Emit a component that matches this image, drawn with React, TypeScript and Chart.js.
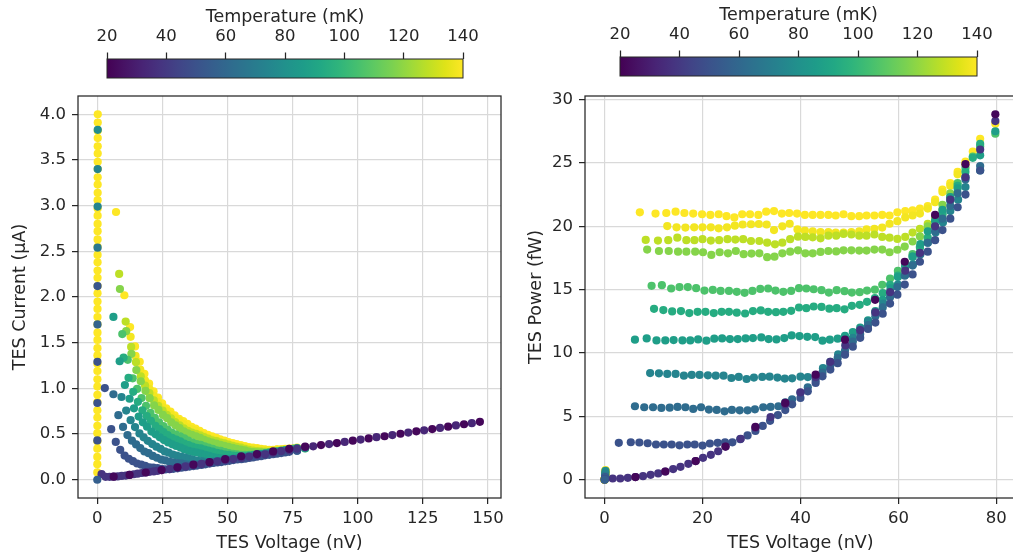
import React, { useEffect, useRef } from "react";
import { Chart, registerables } from "chart.js";

Chart.register(...registerables);

// ---------------- tick labels ----------------
const leftXTicks = [0, 25, 50, 75, 100, 125, 150];
const leftYTicks = [0, 0.5, 1, 1.5, 2, 2.5, 3, 3.5, 4];
const rightXTicks = [0, 20, 40, 60, 80];
const rightYTicks = [0, 5, 10, 15, 20, 25, 30];
const cbarTicks = [20, 40, 60, 80, 100, 120, 140];
const tempMin = 20;
const tempMax = 140;

// ---------------- IV sweeps: voltage (nV) and power (fW), one pair per temperature (mK) ----------------
const v22 = [6.3, 12.4, 18.6, 24.7, 30.8, 36.9, 43.1, 49.1, 55.25, 61.3, 67.5, 73.7, 79.8];
const p22 = [0.21, 0.65, 1.47, 2.62, 4.17, 6.06, 8.29, 11.05, 14.2, 17.2, 20.9, 24.9, 28.84];

const v38 = [1.65, 3.2, 4.75, 6.3, 7.85, 9.4, 10.95, 12.4, 14.0, 15.5, 17.1, 18.6, 20.1, 21.7, 23.2, 24.7, 27.8, 30.8, 33.9, 36.9, 40.0, 43.1, 46.1, 49.2, 52.2, 55.3, 58.3, 61.4, 64.4, 67.5, 70.6, 73.7, 76.7, 79.8];
const p38 = [0.10, 0.10, 0.15, 0.21, 0.28, 0.39, 0.50, 0.65, 0.84, 1.02, 1.26, 1.47, 1.73, 1.97, 2.25, 2.62, 3.23, 4.10, 4.95, 5.95, 6.90, 8.10, 9.30, 10.60, 11.80, 13.20, 14.80, 16.50, 17.90, 20.00, 22.10, 23.86, 26.06, 28.30];

const v50 = [2.9, 5.35, 7.1, 8.8, 10.5, 12.1, 13.7, 15.3, 16.9, 18.4, 20.0, 21.5, 23.1, 24.6, 26.1, 27.7, 29.2, 30.8, 32.3, 33.8, 35.4, 36.9, 38.3, 40.0, 41.5, 43.1, 44.5, 46.1, 47.6, 49.1, 50.7, 52.2, 53.8, 55.3, 56.8, 58.3, 59.8, 61.3, 62.9, 64.4, 66.0, 67.5, 69.0, 70.6, 72.1, 73.7, 76.7];
const p50 = [2.91, 2.96, 2.94, 2.88, 2.78, 2.78, 2.78, 2.72, 2.78, 2.78, 2.70, 2.86, 2.91, 2.96, 2.95, 3.20, 3.50, 3.85, 4.25, 4.65, 5.10, 5.50, 5.95, 6.45, 6.98, 7.64, 8.16, 8.69, 9.20, 9.87, 10.50, 11.20, 11.90, 12.40, 13.10, 13.90, 14.60, 15.40, 16.20, 17.20, 18.00, 18.90, 19.70, 20.60, 21.50, 22.50, 24.40];

const v62 = [6.2, 8.1, 9.9, 11.6, 13.3, 14.9, 16.5, 18.1, 19.7, 21.3, 22.9, 24.5, 26.0, 27.6, 29.2, 30.7, 32.4, 33.9, 35.5, 36.9, 38.3, 40.0, 41.5, 43.1, 44.5, 46.1, 47.6, 49.1, 50.7, 52.2, 53.8, 55.3, 56.8, 58.3, 59.8, 61.3, 62.9, 64.4, 66.0, 67.5, 69.0, 70.6, 72.1, 73.7, 76.7];
const p62 = [5.80, 5.72, 5.72, 5.67, 5.69, 5.75, 5.72, 5.59, 5.72, 5.54, 5.51, 5.40, 5.51, 5.48, 5.48, 5.56, 5.72, 5.75, 5.80, 6.11, 6.35, 6.85, 7.30, 7.90, 8.45, 9.05, 9.60, 10.20, 10.90, 11.50, 12.20, 12.90, 13.60, 14.40, 15.20, 16.10, 16.90, 17.80, 18.70, 19.60, 20.60, 21.60, 22.60, 23.70, 24.75];

const v74 = [9.3, 11.1, 12.8, 14.5, 16.2, 17.8, 19.4, 21.1, 22.7, 24.3, 25.9, 27.4, 29.0, 30.5, 32.2, 33.7, 35.3, 36.8, 38.3, 40.0, 41.5, 43.1, 44.6, 46.1, 47.7, 49.2, 50.7, 52.3, 53.8, 55.3, 56.9, 58.4, 59.9, 61.5, 63.0, 64.5, 66.0, 67.6, 69.1, 70.6, 72.2, 73.7, 76.7];
const p74 = [8.42, 8.40, 8.35, 8.35, 8.21, 8.27, 8.27, 8.24, 8.21, 8.21, 8.03, 8.11, 7.95, 8.06, 8.11, 8.13, 8.06, 7.98, 8.00, 8.13, 8.10, 8.20, 8.80, 9.30, 9.90, 10.60, 11.20, 11.90, 12.50, 13.20, 13.90, 14.60, 15.40, 16.20, 17.00, 17.80, 18.70, 19.50, 20.30, 21.20, 22.10, 23.10, 24.40];

const v87 = [6.2, 8.6, 10.6, 12.4, 14.1, 15.9, 17.5, 19.1, 20.8, 22.4, 24.0, 25.6, 27.2, 28.8, 30.3, 32.0, 33.5, 35.1, 36.7, 38.2, 39.8, 41.4, 43.0, 44.5, 46.0, 47.6, 49.1, 50.7, 52.2, 53.8, 55.3, 56.8, 58.4, 59.9, 61.4, 62.9, 64.5, 66.0, 67.5, 69.0, 70.6, 72.1, 73.7, 76.7, 79.8];
const p87 = [11.05, 11.15, 10.99, 10.99, 11.02, 10.99, 10.99, 11.07, 10.97, 11.13, 11.15, 11.10, 11.10, 11.15, 11.18, 11.23, 11.10, 11.07, 11.18, 11.39, 11.34, 11.28, 11.26, 10.97, 11.05, 11.13, 11.36, 11.65, 12.00, 12.57, 13.30, 14.20, 15.10, 16.00, 16.80, 17.60, 18.60, 19.60, 20.40, 21.30, 22.30, 23.00, 23.90, 25.60, 27.50];

const v94 = [10.1, 12.0, 13.8, 15.6, 17.3, 19.0, 20.6, 22.3, 23.9, 25.4, 27.0, 28.7, 30.3, 31.9, 33.4, 35.0, 36.5, 38.1, 39.7, 41.2, 42.7, 44.3, 45.9, 47.4, 49.0, 50.5, 52.1, 53.6, 55.2, 56.8, 58.3, 59.9, 61.4, 62.9, 64.4, 66.0, 67.5, 69.0, 70.6, 72.1, 73.7, 75.2, 76.7];
const p94 = [13.49, 13.39, 13.28, 13.31, 13.15, 13.25, 13.25, 13.15, 13.25, 13.25, 13.18, 13.12, 13.31, 13.36, 13.25, 13.22, 13.25, 13.33, 13.59, 13.54, 13.67, 13.64, 13.50, 13.54, 13.45, 13.72, 13.80, 14.04, 14.33, 14.72, 15.38, 16.10, 16.90, 17.60, 18.30, 19.10, 20.00, 21.00, 22.00, 23.20, 24.30, 25.40, 26.50];

const v106 = [9.6, 11.7, 13.6, 15.3, 17.0, 18.7, 20.4, 22.1, 23.7, 25.4, 27.0, 28.6, 30.2, 31.8, 33.4, 34.9, 36.5, 38.1, 39.7, 41.2, 42.7, 44.3, 45.8, 47.4, 49.0, 50.5, 52.1, 53.6, 55.2, 56.7, 58.3, 59.9, 61.4, 62.9, 64.4, 66.0, 67.5, 69.0, 70.6, 72.1, 73.7, 75.2, 76.7, 79.8];
const p106 = [15.30, 15.35, 15.09, 15.20, 15.20, 15.12, 14.93, 14.98, 14.90, 14.90, 14.83, 14.75, 14.90, 15.06, 15.09, 14.93, 14.83, 14.90, 15.12, 15.09, 15.03, 14.96, 14.77, 14.96, 14.88, 14.77, 14.80, 14.93, 15.00, 15.38, 15.87, 16.48, 17.10, 17.80, 18.40, 18.90, 19.90, 20.90, 22.30, 23.40, 24.60, 25.50, 26.30, 27.30];

const v118 = [8.7, 11.1, 13.1, 15.0, 16.7, 18.5, 20.1, 21.8, 23.5, 25.2, 26.8, 28.4, 30.0, 31.6, 33.2, 34.7, 36.3, 37.9, 39.5, 41.0, 42.5, 44.1, 45.7, 47.3, 48.8, 50.4, 52.0, 53.5, 55.1, 56.7, 58.2, 59.8, 61.3, 62.9, 64.4, 66.0, 67.5, 69.0, 70.6];
const p118 = [18.16, 18.05, 18.05, 18.00, 18.00, 18.00, 17.95, 17.74, 17.95, 17.87, 18.05, 17.80, 17.85, 17.87, 17.56, 17.60, 17.87, 18.00, 18.10, 17.87, 17.87, 17.98, 18.05, 18.02, 18.10, 18.10, 18.08, 18.08, 18.16, 18.16, 17.95, 18.15, 18.40, 18.80, 19.20, 20.00, 20.60, 21.70, 22.60];

const v128 = [8.4, 10.9, 13.0, 14.85, 16.7, 18.35, 20.0, 21.7, 23.4, 25.1, 26.7, 28.3, 29.9, 31.6, 33.2, 34.8, 36.3, 37.9, 39.5, 41.0, 42.5, 44.1, 45.7, 47.3, 48.8, 50.4, 52.0, 53.5, 55.1, 56.7, 58.2, 59.8, 61.4, 62.9, 64.4, 66.0, 67.5, 69.0];
const p128 = [18.92, 18.87, 18.90, 19.10, 18.90, 18.90, 18.98, 18.87, 18.90, 18.98, 18.95, 18.98, 18.84, 18.84, 18.71, 18.58, 18.71, 18.98, 19.18, 19.16, 19.13, 19.05, 19.26, 19.26, 19.40, 19.35, 19.26, 19.26, 19.35, 19.16, 19.10, 19.00, 19.16, 19.50, 19.80, 20.20, 20.70, 21.30];

const v138 = [12.8, 14.7, 16.5, 18.3, 20.0, 21.7, 23.3, 25.0, 26.6, 28.2, 29.9, 31.5, 33.1, 34.6, 36.3, 37.8, 39.4, 40.9, 42.5, 44.1, 45.7, 47.2, 48.8, 50.4, 52.0, 53.5, 55.1, 56.7, 58.2, 59.8, 61.4, 62.9, 64.4, 66.0, 67.5, 69.0, 70.6, 72.1, 73.7];
const p138 = [20.02, 19.92, 19.90, 19.92, 19.92, 19.92, 19.84, 19.92, 20.05, 20.14, 20.16, 20.18, 20.14, 19.70, 20.00, 20.20, 19.75, 19.65, 19.60, 19.55, 19.55, 19.50, 19.50, 19.55, 19.60, 19.75, 19.80, 19.90, 20.20, 20.40, 20.70, 20.85, 21.00, 21.40, 21.90, 22.70, 23.20, 24.10, 24.90];

const v140 = [7.2, 10.4, 12.6, 14.5, 16.3, 18.1, 19.9, 21.6, 23.3, 24.9, 26.5, 28.1, 29.7, 31.4, 33.0, 34.6, 36.2, 37.7, 39.3, 40.9, 42.5, 44.1, 45.7, 47.2, 48.8, 50.4, 52.0, 53.5, 55.1, 56.7, 58.2, 59.8, 61.4, 62.9, 64.4, 66.0, 67.5, 69.0, 70.6, 72.1, 73.7, 75.2, 76.7, 79.8];
const p140 = [21.10, 21.00, 21.05, 21.15, 21.05, 21.00, 20.95, 20.90, 20.95, 20.80, 20.70, 20.95, 20.95, 20.90, 21.15, 21.20, 21.00, 21.05, 21.00, 20.90, 20.90, 20.90, 20.90, 20.85, 20.95, 20.80, 20.80, 20.85, 20.85, 20.90, 20.85, 21.10, 21.20, 21.25, 21.40, 21.60, 22.10, 22.90, 23.40, 24.30, 25.10, 25.90, 26.90, 28.10];

// high-voltage normal branch (current plot only): voltage (nV), current (uA)
const vExt22 = [85.9, 92.0, 98.1, 104.2, 110.3, 116.4, 122.5, 128.6, 134.7, 140.8, 146.9];
const iExt22 = [0.379, 0.401, 0.427, 0.452, 0.476, 0.503, 0.530, 0.554, 0.581, 0.607, 0.634];
const vExt33 = [82.9, 89.0, 95.0, 101.1, 107.2, 113.3, 119.4, 125.5, 131.6, 137.7, 143.8];
const iExt33 = [0.366, 0.390, 0.414, 0.439, 0.466, 0.489, 0.516, 0.541, 0.567, 0.594, 0.619];

// superconducting branch at 140 mK: current (uA), residual voltage (nV)
const scYellowI = [4.00, 3.91, 3.82, 3.74, 3.65, 3.57, 3.48, 3.40, 3.31, 3.23, 3.14, 3.06, 2.97, 2.89, 2.80, 2.72, 2.63, 2.55, 2.46, 2.38, 2.29, 2.21, 2.12, 2.04, 1.95, 1.87, 1.78, 1.70, 1.61, 1.53, 1.44, 1.36, 1.27, 1.19, 1.10, 1.02, 0.93, 0.85, 0.76, 0.68, 0.59, 0.51, 0.42, 0.34, 0.25, 0.17, 0.08];
const scYellowV = [0.190, 0.186, 0.181, 0.178, 0.173, 0.170, 0.165, 0.162, 0.157, 0.153, 0.149, 0.145, 0.141, 0.137, 0.133, 0.129, 0.125, 0.121, 0.117, 0.113, 0.109, 0.105, 0.101, 0.097, 0.093, 0.089, 0.085, 0.081, 0.076, 0.073, 0.068, 0.065, 0.060, 0.057, 0.052, 0.048, 0.044, 0.040, 0.036, 0.032, 0.028, 0.024, 0.020, 0.016, 0.012, 0.008, 0.004];
// superconducting points of other temperatures
const scI = [3.83, 3.40, 2.99, 2.54, 2.12, 1.70, 1.29, 0.84, 0.43, 0.0];
const scV = [0.182, 0.162, 0.142, 0.121, 0.101, 0.081, 0.061, 0.040, 0.020, 0.0];
const scT = [78, 74, 74, 68, 52, 58, 50, 50, 50, 56];

// ---------------- styling ----------------
const VIRIDIS = ["#440154", "#471365", "#482475", "#463480", "#414487", "#3b528b", "#355f8d", "#2f6c8e", "#2a788e", "#25848e", "#21918c", "#1e9c89", "#22a884", "#2fb47c", "#44bf70", "#5ec962", "#7ad151", "#9bd93c", "#bddf26", "#dfe318", "#fde725"];
const FONT = "'DejaVu Sans', sans-serif";
const TXT = "#262626";
const GRID = "#d9d9d9";
const RADIUS = 4.1;

function hexToRgb(h: string) {
  return [parseInt(h.slice(1, 3), 16), parseInt(h.slice(3, 5), 16), parseInt(h.slice(5, 7), 16)];
}
function tempColor(T: number) {
  let t = (T - tempMin) / (tempMax - tempMin);
  t = Math.max(0, Math.min(1, t));
  const n = VIRIDIS.length - 1;
  const x = t * n;
  const i = Math.min(n - 1, Math.floor(x));
  const f = x - i;
  const a = hexToRgb(VIRIDIS[i]);
  const b = hexToRgb(VIRIDIS[i + 1]);
  const c = a.map((av, k) => Math.round(av + (b[k] - av) * f));
  return `rgb(${c[0]},${c[1]},${c[2]})`;
}

type Curve = { temp: number; v: number[]; p: number[] };
const curves: Curve[] = [
  { temp: 22, v: v22, p: p22 },
  { temp: 38, v: v38, p: p38 },
  { temp: 50, v: v50, p: p50 },
  { temp: 62, v: v62, p: p62 },
  { temp: 74, v: v74, p: p74 },
  { temp: 87, v: v87, p: p87 },
  { temp: 94, v: v94, p: p94 },
  { temp: 106, v: v106, p: p106 },
  { temp: 118, v: v118, p: p118 },
  { temp: 128, v: v128, p: p128 },
  { temp: 138, v: v138, p: p138 },
  { temp: 140, v: v140, p: p140 },
];

function pointDs(label: string, data: { x: number; y: number }[], color: any) {
  return {
    label,
    data,
    backgroundColor: color,
    borderColor: color,
    pointRadius: RADIUS,
    pointHoverRadius: RADIUS,
    pointBorderWidth: 0,
    borderWidth: 0,
  };
}

function buildDatasets(kind: "current" | "power") {
  const ds: any[] = [];
  ds.push(
    pointDs(
      "sc",
      scI.map((i, k) => ({ x: scV[k], y: kind === "current" ? i : i * scV[k] })),
      scT.map((t) => tempColor(t))
    )
  );
  curves.forEach((c) => {
    const pts = c.v.map((v, k) => ({ x: v, y: kind === "current" ? c.p[k] / v : c.p[k] }));
    if (kind === "current" && c.temp === 22) {
      vExt22.forEach((v, k) => pts.push({ x: v, y: iExt22[k] }));
    }
    ds.push(pointDs(`${c.temp} mK`, pts, tempColor(c.temp)));
    if (kind === "current" && c.temp === 22) {
      ds.push(pointDs("33 mK", vExt33.map((v, k) => ({ x: v, y: iExt33[k] })), tempColor(33)));
    }
  });
  ds.push(
    pointDs(
      "sc 140 mK",
      scYellowI.map((i, k) => ({ x: scYellowV[k], y: kind === "current" ? i : i * scYellowV[k] })),
      tempColor(140)
    )
  );
  return ds;
}

const framePlugin = {
  id: "frame",
  afterDraw(chart: any) {
    const { ctx, chartArea: a } = chart;
    ctx.save();
    ctx.strokeStyle = TXT;
    ctx.lineWidth = 1.25;
    ctx.strokeRect(a.left, a.top, a.right - a.left, a.bottom - a.top);
    ctx.restore();
  },
};

const cbarPlugin = {
  id: "cbar",
  beforeDatasetsDraw(chart: any) {
    const { ctx, chartArea: a } = chart;
    const g = ctx.createLinearGradient(a.left, 0, a.right, 0);
    VIRIDIS.forEach((c, i) => g.addColorStop(i / (VIRIDIS.length - 1), c));
    ctx.save();
    ctx.fillStyle = g;
    ctx.fillRect(a.left, a.top, a.right - a.left, a.bottom - a.top);
    ctx.restore();
  },
  afterDraw(chart: any) {
    const { ctx, chartArea: a } = chart;
    ctx.save();
    ctx.strokeStyle = TXT;
    ctx.lineWidth = 1;
    ctx.strokeRect(a.left, a.top, a.right - a.left, a.bottom - a.top);
    ctx.restore();
  },
};

const tickFont = { family: FONT, size: 16.5 };
const labelFont = { family: FONT, size: 17.5 };

function fixedTicks(vals: number[]) {
  return (axis: any) => {
    axis.ticks = vals.map((v) => ({ value: v }));
  };
}

function mainConfig(kind: "current" | "power") {
  const isLeft = kind === "current";
  return {
    type: "scatter",
    data: { datasets: buildDatasets(kind) },
    options: {
      animation: false,
      responsive: false,
      events: [],
      layout: { padding: { left: 0, top: 96, right: isLeft ? 9 : 0, bottom: 0 } },
      plugins: { legend: { display: false }, tooltip: { enabled: false } },
      scales: {
        x: {
          type: "linear",
          min: isLeft ? -7.4 : -4,
          max: isLeft ? 155 : 84,
          afterBuildTicks: fixedTicks(isLeft ? leftXTicks : rightXTicks),
          afterFit: (ax: any) => {
            ax.height = 59;
          },
          ticks: { font: tickFont, color: TXT, padding: 4.5, autoSkip: false, maxRotation: 0, callback: (v: any) => String(v) },
          grid: { color: GRID, lineWidth: 1.2, drawTicks: true, tickLength: 6, tickColor: TXT, tickWidth: 1.25 },
          border: { display: false },
          title: { display: true, text: "TES Voltage (nV)", font: labelFont, color: TXT, padding: { top: 0, bottom: 3.5 } },
        },
        y: {
          type: "linear",
          min: isLeft ? -0.2 : -1.44,
          max: isLeft ? 4.2 : 30.28,
          afterBuildTicks: fixedTicks(isLeft ? leftYTicks : rightYTicks),
          afterFit: (ax: any) => {
            ax.width = isLeft ? 78 : 75;
          },
          ticks: {
            font: tickFont,
            color: TXT,
            padding: 6,
            autoSkip: false,
            callback: (v: any) => (isLeft ? Number(v).toFixed(1) : String(v)),
          },
          grid: { color: GRID, lineWidth: 1.2, drawTicks: true, tickLength: 6, tickColor: TXT, tickWidth: 1.25 },
          border: { display: false },
          title: {
            display: true,
            text: isLeft ? "TES Current (μA)" : "TES Power (fW)",
            font: labelFont,
            color: TXT,
            padding: { top: isLeft ? 10 : 16, bottom: 0 },
          },
        },
      },
    },
    plugins: [framePlugin],
  };
}

function cbarConfig(padLeft: number, padRight: number) {
  return {
    type: "scatter",
    data: { datasets: [] },
    options: {
      animation: false,
      responsive: false,
      events: [],
      layout: { padding: { left: padLeft, right: padRight, top: 0, bottom: 2 } },
      plugins: { legend: { display: false }, tooltip: { enabled: false } },
      scales: {
        x: {
          type: "linear",
          position: "top",
          min: tempMin,
          max: tempMax,
          afterBuildTicks: fixedTicks(cbarTicks),
          afterFit: (ax: any) => {
            ax.height = 59;
          },
          ticks: { font: tickFont, color: TXT, padding: 5.5, autoSkip: false, maxRotation: 0, callback: (v: any) => String(v) },
          grid: { display: true, drawOnChartArea: false, drawTicks: true, tickLength: 6.5, tickColor: TXT, tickWidth: 1.25 },
          border: { display: false },
          title: { display: true, text: "Temperature (mK)", font: labelFont, color: TXT, padding: { top: 6.5, bottom: 0 } },
        },
        y: { display: false, min: 0, max: 1 },
      },
    },
    plugins: [cbarPlugin],
  };
}

export default function App() {
  const leftRef = useRef<HTMLCanvasElement>(null);
  const rightRef = useRef<HTMLCanvasElement>(null);
  const leftBarRef = useRef<HTMLCanvasElement>(null);
  const rightBarRef = useRef<HTMLCanvasElement>(null);

  useEffect(() => {
    const charts: Chart[] = [];
    if (leftRef.current) charts.push(new Chart(leftRef.current, mainConfig("current") as any));
    if (rightRef.current) charts.push(new Chart(rightRef.current, mainConfig("power") as any));
    if (leftBarRef.current) charts.push(new Chart(leftBarRef.current, cbarConfig(107, 47) as any));
    if (rightBarRef.current) charts.push(new Chart(rightBarRef.current, cbarConfig(110, 36) as any));
    return () => charts.forEach((c) => c.destroy());
  }, []);

  const abs = (l: number, t: number, w: number, h: number): React.CSSProperties => ({
    position: "absolute",
    left: l,
    top: t,
    width: w,
    height: h,
  });

  return (
    <div style={{ position: "fixed", left: 0, top: 0, width: 1013, height: 557, overflow: "hidden", background: "#ffffff" }}>
      <canvas ref={leftRef} width={510} height={557} style={abs(0, 0, 510, 557)} />
      <canvas ref={rightRef} width={510} height={557} style={abs(510, 0, 510, 557)} />
      <canvas ref={leftBarRef} width={510} height={80} style={abs(0, 0, 510, 80)} />
      <canvas ref={rightBarRef} width={503} height={80} style={abs(510, -2, 503, 80)} />
    </div>
  );
}
